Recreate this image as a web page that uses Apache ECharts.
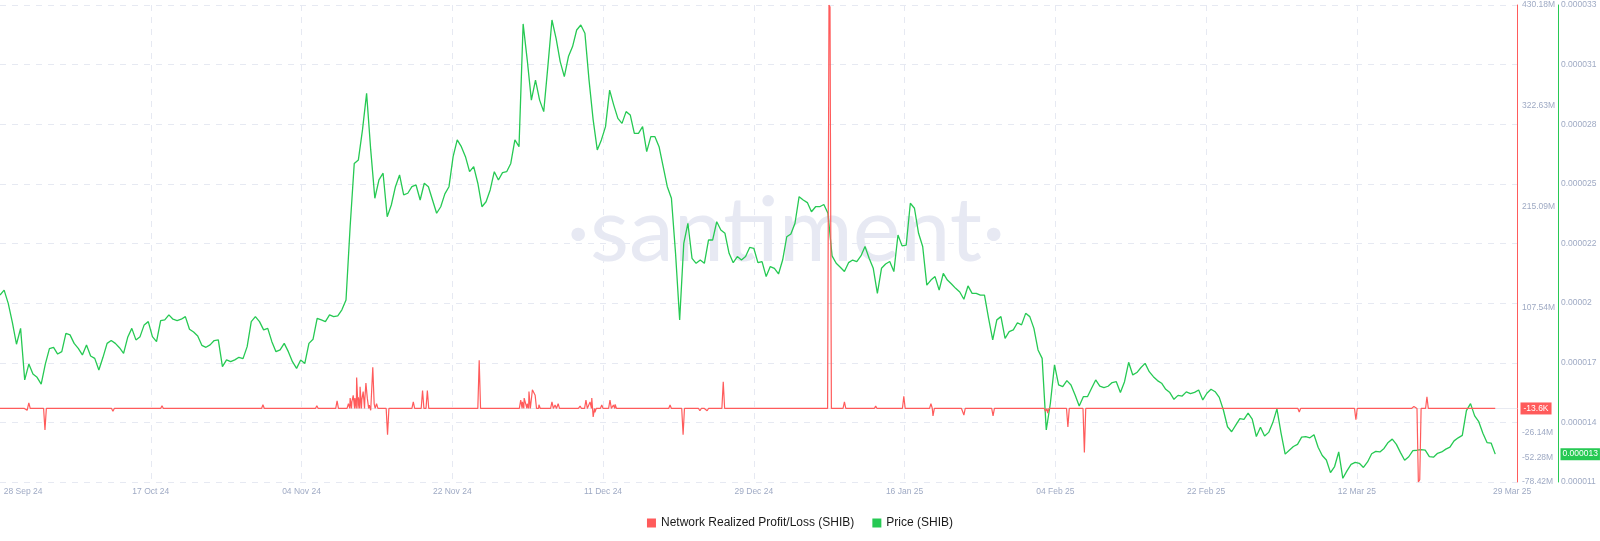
<!DOCTYPE html>
<html><head><meta charset="utf-8">
<script src="https://cdn.jsdelivr.net/npm/echarts@6/dist/echarts.min.js"></script>
<style>html,body{margin:0;padding:0;background:#fff}#c{width:1600px;height:541px}</style>
</head><body><div id="c"></div>
<script>
// ---- time base (12-hourly price samples) ----
const START = Date.UTC(2024, 8, 28, 23);      // first sample 28 Sep 2024 23:00 UTC
const STEP_MS = 12 * 3600e3;
const DAY = 864e5;
const AXIS_DAYS = 184.14;                     // visible span of the time axis
const TICK_DAYS = 18.3;                       // spacing of the date ticks

// ---- x tick labels ----
const xTickLabels = ['28 Sep 24','17 Oct 24','04 Nov 24','22 Nov 24','11 Dec 24','29 Dec 24','16 Jan 25','04 Feb 25','22 Feb 25','12 Mar 25','29 Mar 25'];

// ---- price (SHIB), in units of 1e-6 USD ----
const PRICE_UNIT = 1e-6;
const priceSep = [20.04,20.27,19.66,18.79,17.78];
const priceOct = [18.51,16.14,16.87,16.41,16.26,15.95,16.87,17.58,17.64,17.33,17.44,18.28,18.21,17.82,17.59,17.29,17.75,17.24,17.13,16.60,17.18,17.82,17.95,17.82,17.62,17.36,18.10,18.51,17.98,18.13,18.67,18.82,18.13,17.90,18.87,18.90,19.13,18.93,18.87,18.93,19.05,18.47,18.34,18.16,17.73,17.64,17.75,17.95,17.98,16.75,17.06,16.98,17.06,17.18,17.12,17.67,18.82,19.05,18.82,18.44,18.51,17.90];
const priceNov = [17.44,17.52,17.82,17.44,16.98,16.67,17.06,16.90,17.82,18.01,18.97,18.90,18.82,19.13,19.05,19.08,19.36,19.81,23.18,26.09,26.25,27.63,29.31,26.71,24.49,25.33,25.64,23.64,24.18,25.02,25.56,24.64,24.72,25.02,25.10,24.41,25.18,25.02,24.41,23.80,24.10,24.69,25.02,26.40,27.17,26.86,26.40,25.71,25.94,25.18,24.10,24.33,24.87,25.71,25.33,25.67,25.71,26.09,27.17,26.86];
const priceDec = [32.50,30.84,29.00,29.92,29.00,28.47,30.54,32.68,31.84,30.77,30.08,31.00,31.46,32.22,32.45,32.07,29.92,28.09,26.71,27.17,27.78,29.46,28.77,28.16,27.93,28.47,28.32,27.47,27.47,27.78,26.63,27.32,27.32,26.86,25.94,25.02,24.49,21.96,18.90,22.42,23.34,21.73,21.50,21.65,21.50,22.57,22.57,23.41,23.03,22.88,21.96,21.53,21.81,21.65,21.81,22.23,22.19,21.53,21.58,20.89,21.35,21.27];
const priceJan = [21.01,21.65,22.72,22.85,23.34,24.56,24.41,24.29,23.87,24.10,24.10,24.20,23.80,21.84,21.50,21.32,21.12,21.53,21.65,21.58,21.84,22.27,21.73,21.27,20.12,21.27,21.47,21.58,21.12,22.80,22.30,22.34,24.26,24.03,22.88,22.27,20.50,20.73,20.89,20.27,21.04,20.73,20.55,20.35,20.18,19.85,20.46,20.12,20.12,20.04,20.04,18.97,17.98,18.90,19.05,18.05,18.36,18.44,18.77,18.67,19.20,19.05];
const priceFeb = [18.51,17.52,17.13,13.84,15.07,16.83,15.91,15.83,16.11,15.91,15.45,14.94,15.37,15.37,15.76,16.14,15.86,15.79,15.85,16.02,16.06,15.56,16.06,16.95,16.37,16.48,16.71,16.90,16.52,16.29,16.11,15.99,15.71,15.56,15.25,15.43,15.40,15.59,15.51,15.57,15.68,15.22,15.53,15.71,15.60,15.34,14.76,13.99,13.76,14.06,14.36,14.33,14.61,14.34,13.54,13.97];
const priceMar = [13.56,13.73,14.18,14.81,13.70,12.73,12.91,13.08,13.18,13.51,13.54,13.48,13.62,13.05,12.67,12.46,11.88,12.16,12.83,11.62,11.96,12.26,12.35,12.31,12.12,12.37,12.75,12.86,12.83,12.99,13.27,13.42,13.18,12.80,12.45,12.61,12.89,12.91,12.94,12.91,12.62,12.59,12.77,12.83,12.96,13.05,13.34,13.48,13.59,14.73,15.05,14.49,14.22,13.69,13.26,13.24,12.73];

// ---- Network Realized Profit/Loss (SHIB), in millions USD, readings where the line leaves zero ----
const redSep = [['2024-09-30T13:00Z',2]];
const redOct = [['2024-10-01T18:00Z',2],['2024-10-02T06:00Z',-2],['2024-10-02T11:00Z',6],['2024-10-03T11:00Z',1.5],['2024-10-04T10:00Z',-23],['2024-10-07T17:00Z',1],['2024-10-10T18:00Z',2],['2024-10-12T16:00Z',-3],['2024-10-18T15:00Z',3],['2024-10-26T15:00Z',1],['2024-10-30T21:00Z',4]];
const redNov = [['2024-11-06T10:00Z',3],['2024-11-08T21:00Z',8],
 ['2024-11-10T06:00Z',5],['2024-11-10T11:00Z',11],['2024-11-10T16:00Z',7],['2024-11-10T20:00Z',14],['2024-11-11T01:00Z',11],['2024-11-11T06:00Z',33],['2024-11-11T11:00Z',12],['2024-11-11T16:00Z',23],['2024-11-11T21:00Z',9],['2024-11-12T01:00Z',18],['2024-11-12T06:00Z',11],['2024-11-12T09:00Z',27],['2024-11-12T13:00Z',11],['2024-11-12T19:00Z',3.6],['2024-11-12T23:00Z',-2],['2024-11-13T05:00Z',44],['2024-11-13T09:00Z',5],['2024-11-13T12:00Z',0],['2024-11-13T16:00Z',5],['2024-11-13T21:00Z',0],
 ['2024-11-15T00:00Z',-28],['2024-11-18T03:00Z',7],['2024-11-19T06:00Z',19],['2024-11-19T20:00Z',19],['2024-11-23T02:00Z',2],['2024-11-23T10:00Z',1.5],['2024-11-24T04:00Z',1],['2024-11-26T03:00Z',51.5]];
const redDec = [['2024-12-01T04:00Z',9],['2024-12-01T09:00Z',7],['2024-12-01T14:00Z',11],['2024-12-01T18:00Z',9],['2024-12-01T23:00Z',5],['2024-12-02T04:00Z',18],['2024-12-02T09:00Z',0],['2024-12-02T14:00Z',20],['2024-12-02T18:00Z',21],['2024-12-02T22:00Z',14],['2024-12-03T04:00Z',2],['2024-12-03T09:00Z',4],['2024-12-03T14:00Z',0],
 ['2024-12-04T23:00Z',7],['2024-12-05T08:00Z',3.6],['2024-12-05T17:00Z',5],['2024-12-06T19:00Z',2],['2024-12-08T00:00Z',2],['2024-12-08T09:00Z',2.5],
 ['2024-12-09T02:00Z',9],['2024-12-09T14:00Z',7],['2024-12-09T19:00Z',11],['2024-12-09T23:00Z',-9],['2024-12-10T04:00Z',-4],['2024-12-10T09:00Z',-2],
 ['2024-12-11T00:00Z',3.6],['2024-12-12T00:00Z',9],['2024-12-12T10:00Z',3.6],['2024-12-12T15:00Z',4.4],
 ['2024-12-19T07:00Z',3.6],['2024-12-19T15:00Z',-2],['2024-12-20T21:00Z',-28],
 ['2024-12-22T22:00Z',-2.5],['2024-12-23T07:00Z',-2],['2024-12-23T19:00Z',-2.5],['2024-12-25T18:00Z',28.4]];
const redJan = [['2025-01-07T14:00Z',430.18],['2025-01-07T17:00Z',428],['2025-01-09T11:00Z',7],['2025-01-13T06:00Z',2.5],['2025-01-16T16:00Z',13],['2025-01-17T10:00Z',2],['2025-01-19T23:00Z',5],['2025-01-20T05:00Z',-8],['2025-01-22T20:00Z',2],['2025-01-23T12:00Z',-1],['2025-01-23T23:00Z',-7],['2025-01-27T12:00Z',-8]];
const redFeb = [['2025-02-02T21:00Z',-3],['2025-02-03T03:00Z',-5],['2025-02-03T08:00Z',2],['2025-02-05T14:00Z',-19.6],['2025-02-07T14:00Z',-46.9],['2025-02-19T10:00Z',1.5],['2025-02-22T11:00Z',1]];
const redMar = [['2025-03-05T16:00Z',-3.7],['2025-03-12T13:00Z',-12],['2025-03-19T11:00Z',-2],['2025-03-19T14:00Z',2],['2025-03-20T03:00Z',-78.42],['2025-03-20T07:00Z',-76],['2025-03-21T04:00Z',12.5],['2025-03-29T11:00Z',-0.0136]];

// ---- axis tick values ----
const redTicks = [-78.42,-52.28,-26.14,107.54,215.09,322.63,430.18];          // millions
const greenTicks = [11.45,14.19,16.93,19.67,22.41,25.15,27.89,30.63,33.37];    // 1e-6

// ---- build series ----
const priceAll = [].concat(priceSep, priceOct, priceNov, priceDec, priceJan, priceFeb, priceMar);
const priceData = priceAll.map((v, i) => [START + i * STEP_MS, v * PRICE_UNIT]);

const redEvents = [].concat(redSep, redOct, redNov, redDec, redJan, redFeb, redMar).map(e => [Date.parse(e[0]), e[1]]);
const PAD = 4 * 3600e3;
const redData = [[START, 0]];
redEvents.forEach((e, i) => {
  const last = redData[redData.length - 1][0];
  if (last < e[0] - PAD) redData.push([e[0] - PAD, 0]);
  redData.push(e);
  const next = redEvents[i + 1];
  if (next && next[0] > e[0] + PAD) redData.push([e[0] + PAD, 0]);
});

const AXIS_END = START + AXIS_DAYS * DAY;
const xTickTimes = [1,2,3,4,5,6,7,8,9].map(k => START + k * TICK_DAYS * DAY);
const xLabelTimes = [START + 0.45 * DAY].concat(xTickTimes, [START + 183.54 * DAY]);
function xLabel(v) {
  let best = 0, bd = Infinity;
  xLabelTimes.forEach((t, i) => { const d = Math.abs(t - v); if (d < bd) { bd = d; best = i; } });
  return xTickLabels[best];
}
const lastRed = redEvents[redEvents.length - 1][1];
const lastPrice = priceAll[priceAll.length - 1] * PRICE_UNIT;
const fmtPrice = v => String(parseFloat((+v).toFixed(6)));
const fmtRed = v => Math.abs(v) < 1 ? (v * 1000).toFixed(1) + 'K' : (+v).toFixed(2) + 'M';

const RED = '#ff5b5b', GREEN = '#26c953', LABEL = '#9faac4', FONT = 'Liberation Sans, Arial, sans-serif';
const AX_FS = 8.5;

const chart = echarts.init(document.getElementById('c'), null, {renderer: 'canvas'});
chart.setOption({
  animation: false,
  backgroundColor: '#fff',
  grid: {left: 0, right: 83, top: 5, bottom: 59, outerBoundsMode: 'none', containLabel: false},
  graphic: [{
    type: 'text', x: 786, y: 232, z: 0, silent: true,
    style: {text: '·santiment·', fontSize: 90, fontFamily: 'Lato', fontWeight: 400, fill: '#e7e9f3', align: 'center', verticalAlign: 'middle'}
  }],
  legend: {
    top: 512, left: 'center', icon: 'rect', itemWidth: 9, itemHeight: 9, itemGap: 18,
    textStyle: {fontSize: 12, color: '#1b1b1b', fontFamily: FONT},
    data: ['Network Realized Profit/Loss (SHIB)', 'Price (SHIB)']
  },
  xAxis: {
    type: 'value', min: START, max: AXIS_END,
    axisLine: {show: true, lineStyle: {color: '#e8eaf1'}},
    axisTick: {show: false, customValues: xTickTimes},
    splitLine: {show: true, lineStyle: {color: '#e6e9f2', type: [6, 6], width: 1}},
    axisLabel: {customValues: xLabelTimes, formatter: xLabel, color: LABEL, fontSize: AX_FS, fontFamily: FONT, margin: 5, alignMinLabel: 'left'}
  },
  yAxis: [
    {
      type: 'value', position: 'right', offset: 0, min: -78.42, max: 430.18,
      axisLine: {show: true, lineStyle: {color: RED, width: 1}},
      axisTick: {show: false, customValues: redTicks},
      splitLine: {show: false},
      axisLabel: {customValues: redTicks, formatter: fmtRed, color: LABEL, fontSize: AX_FS, fontFamily: FONT, margin: 5}
    },
    {
      type: 'value', position: 'right', offset: 41, min: greenTicks[0] * PRICE_UNIT, max: greenTicks[greenTicks.length - 1] * PRICE_UNIT,
      axisLine: {show: true, lineStyle: {color: GREEN, width: 1}},
      axisTick: {show: false, customValues: greenTicks.map(v => v * PRICE_UNIT)},
      splitLine: {show: true, lineStyle: {color: '#e6e9f2', type: [6, 6], width: 1}},
      axisLabel: {customValues: greenTicks.map(v => v * PRICE_UNIT), formatter: fmtPrice, color: LABEL, fontSize: AX_FS, fontFamily: FONT, margin: 3}
    }
  ],
  series: [
    {name: 'Network Realized Profit/Loss (SHIB)', type: 'line', yAxisIndex: 0, data: redData, showSymbol: false, z: 3,
     lineStyle: {color: RED, width: 1.2}, itemStyle: {color: RED},
     markPoint: {symbol: 'rect', symbolSize: [1, 1], silent: true,
       data: [{coord: [AXIS_END, lastRed], value: lastRed}],
       label: {show: true, position: 'right', distance: 3, formatter: p => fmtRed(p.value), backgroundColor: RED, color: '#fff', fontSize: AX_FS, fontFamily: FONT, padding: [2, 3, 1, 3]},
       itemStyle: {color: 'rgba(0,0,0,0)'}}},
    {name: 'Price (SHIB)', type: 'line', yAxisIndex: 1, data: priceData, showSymbol: false, z: 2,
     lineStyle: {color: GREEN, width: 1.3}, itemStyle: {color: GREEN},
     markPoint: {symbol: 'rect', symbolSize: [1, 1], silent: true,
       data: [{coord: [AXIS_END, lastPrice], value: lastPrice}],
       label: {show: true, position: 'right', distance: 43, formatter: p => fmtPrice(p.value), backgroundColor: GREEN, color: '#fff', fontSize: AX_FS, fontFamily: FONT, padding: [2, 2, 1, 2]},
       itemStyle: {color: 'rgba(0,0,0,0)'}}}
  ]
});
</script></body></html>
